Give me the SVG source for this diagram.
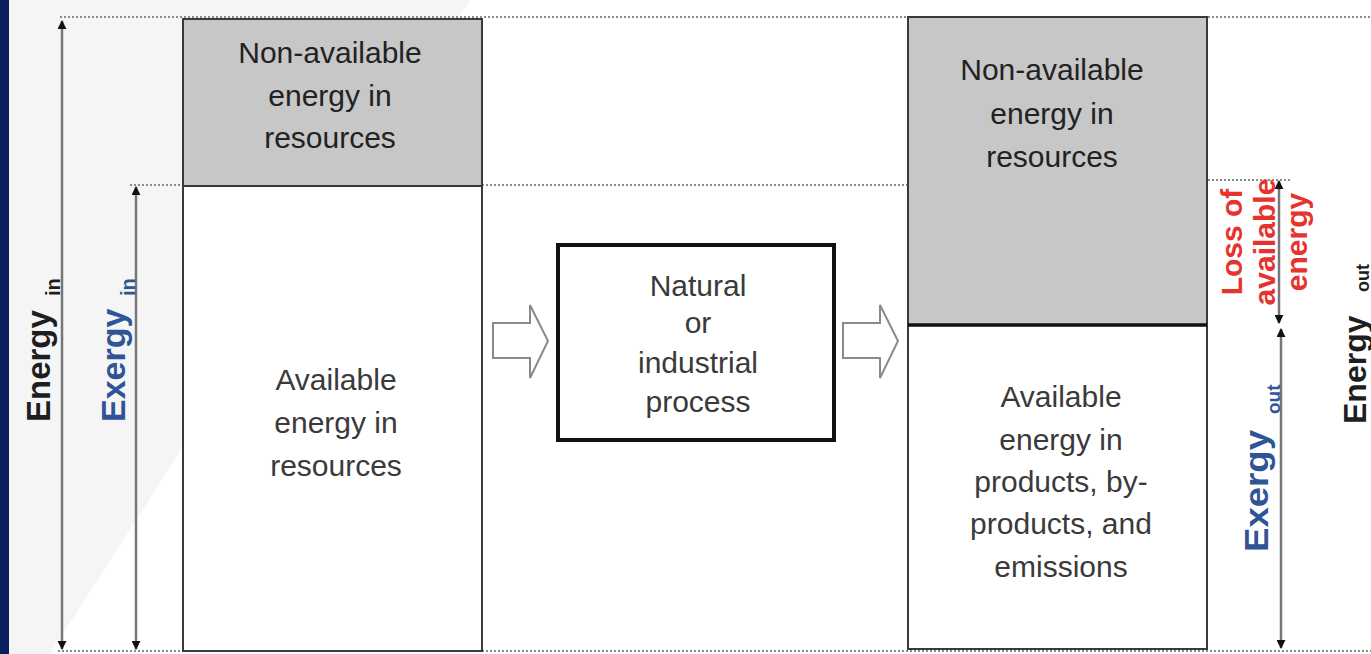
<svg xmlns="http://www.w3.org/2000/svg" width="1371" height="654" viewBox="0 0 1371 654">
  <defs>
    <marker id="ah" viewBox="0 0 10 10" refX="9" refY="5" markerWidth="9" markerHeight="9" markerUnits="userSpaceOnUse" orient="auto-start-reverse">
      <path d="M0,0 L10,5 L0,10 z" fill="#111"/>
    </marker>
    <style>
      .t { font-family: "Liberation Sans", Arial, sans-serif; font-size: 30px; text-anchor: middle; }
      .dark { fill: #222; }
      .avail { fill: #3a3a3a; }
      .rot { font-family: "Liberation Sans", Arial, sans-serif; font-weight: bold; }
      .blk { fill: #1e1e1e; }
      .blu { fill: #2f5597; }
      .red { fill: #e8322d; font-size: 30px; text-anchor: middle; }
      .dot { stroke: #8a8a8a; stroke-width: 2; stroke-dasharray: 2 2; fill: none; }
      .dim { stroke: #777; stroke-width: 2.5; fill: none; marker-start: url(#ah); marker-end: url(#ah); }
      .gray { fill: #c7c7c7; stroke: #3a3a3a; stroke-width: 2; }
      .white { fill: #fff; stroke: #3a3a3a; stroke-width: 2; }
      .block { fill: #fff; stroke: #8a8a8a; stroke-width: 2; }
    </style>
  </defs>

  <!-- background -->
  <rect x="0" y="0" width="1371" height="654" fill="#fff"/>
  <polygon points="9,0 470,0 50,654 9,654" fill="#f5f5f5"/>
  <rect x="0" y="0" width="9" height="654" fill="#0b1f5c"/>

  <!-- guide lines -->
  <g id="guides">
    <line class="dot" x1="60" y1="17" x2="1371" y2="17"/>
    <line class="dot" x1="130" y1="185" x2="908" y2="185"/>
    <line class="dot" x1="1208" y1="180" x2="1290" y2="180"/>
    <line class="dot" x1="58" y1="651" x2="1371" y2="651"/>
  </g>

  <g id="node-left-nonavailable">
    <rect class="gray" x="183" y="19" width="299" height="167"/>
    <text class="t dark" x="330" y="63">Non-available</text>
    <text class="t dark" x="330" y="106">energy in</text>
    <text class="t dark" x="330" y="148">resources</text>
  </g>

  <g id="node-left-available">
    <rect class="white" x="183" y="186" width="299" height="465"/>
    <text class="t avail" x="336" y="390">Available</text>
    <text class="t avail" x="336" y="433">energy in</text>
    <text class="t avail" x="336" y="476">resources</text>
  </g>

  <g id="node-process">
    <rect x="558" y="245" width="276" height="195" fill="#fff" stroke="#111" stroke-width="4"/>
    <text class="t avail" x="698" y="296">Natural</text>
    <text class="t avail" x="698" y="333">or</text>
    <text class="t avail" x="698" y="373">industrial</text>
    <text class="t avail" x="698" y="412">process</text>
  </g>

  <g id="node-right-nonavailable">
    <rect class="gray" x="908" y="17" width="299" height="308"/>
    <text class="t dark" x="1052" y="80">Non-available</text>
    <text class="t dark" x="1052" y="124">energy in</text>
    <text class="t dark" x="1052" y="167">resources</text>
  </g>

  <g id="node-right-available">
    <rect class="white" x="908" y="325" width="299" height="324"/>
    <line x1="908" y1="325" x2="1207" y2="325" stroke="#111" stroke-width="3.5"/>
    <text class="t avail" x="1061" y="407">Available</text>
    <text class="t avail" x="1061" y="450">energy in</text>
    <text class="t avail" x="1061" y="492">products, by-</text>
    <text class="t avail" x="1061" y="534">products, and</text>
    <text class="t avail" x="1061" y="577">emissions</text>
  </g>

  <g id="connectors">
    <path class="block" d="M493,323 H530 V305 L548,341 L530,378 V358 H493 Z"/>
    <path class="block" d="M843,323 H880 V305 L898,341 L880,378 V358 H843 Z"/>
    <line class="dim" x1="62" y1="21" x2="62" y2="649"/>
    <line class="dim" x1="136" y1="187" x2="136" y2="649"/>
    <line class="dim" x1="1279" y1="181" x2="1279" y2="323"/>
    <line class="dim" x1="1281" y1="329" x2="1281" y2="648"/>
  </g>

  <g id="label-energy-in">
    <text class="rot blk" font-size="33" transform="translate(50,422) rotate(-90)">Energy</text>
    <text class="rot blk" font-size="20" transform="translate(60,296) rotate(-90)">in</text>
  </g>
  <g id="label-exergy-in">
    <text class="rot blu" font-size="34" transform="translate(125,422) rotate(-90)">Exergy</text>
    <text class="rot blu" font-size="20" transform="translate(135,296) rotate(-90)">in</text>
  </g>
  <g id="label-loss">
    <text class="rot red" transform="translate(1242,242) rotate(-90)">Loss of</text>
    <text class="rot red" transform="translate(1275,242) rotate(-90)">available</text>
    <text class="rot red" transform="translate(1307,242) rotate(-90)">energy</text>
  </g>
  <g id="label-exergy-out">
    <text class="rot blu" font-size="34" textLength="122" lengthAdjust="spacingAndGlyphs" transform="translate(1268,552) rotate(-90)">Exergy</text>
    <text class="rot blu" font-size="19" transform="translate(1280,414) rotate(-90)">out</text>
  </g>
  <g id="label-energy-out">
    <text class="rot blk" font-size="32" transform="translate(1366,424) rotate(-90)">Energy</text>
    <text class="rot blk" font-size="18" transform="translate(1369,292) rotate(-90)">out</text>
  </g>
</svg>
